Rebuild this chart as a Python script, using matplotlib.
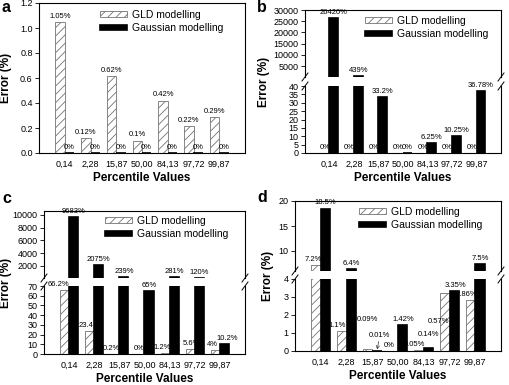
import matplotlib
matplotlib.use("Agg")
import matplotlib.pyplot as plt
from matplotlib.lines import Line2D

plt.rcParams['font.family'] = ['Liberation Sans', 'DejaVu Sans']
plt.rcParams['hatch.linewidth'] = 0.6

W, H = 510, 385

percentiles = ['0,14', '2,28', '15,87', '50,00', '84,13', '97,72', '99,87']
series_names = ['GLD modelling', 'Gaussian modelling']

# panel a
a_gld = [1.05, 0.12, 0.62, 0.1, 0.42, 0.22, 0.29]
a_gau = [0, 0, 0, 0, 0, 0, 0]
a_gld_lab = ['1.05%', '0.12%', '0.62%', '0.1%', '0.42%', '0.22%', '0.29%']
a_gau_lab = ['0%'] * 7

# panel b
b_gld = [0, 0, 0, 0, 0, 0, 0]
b_gau = [26420, 439, 33.2, 0, 6.25, 10.25, 36.78]
b_gld_lab = ['0%'] * 7
b_gau_lab = ['26420%', '439%', '33.2%', '0%', '6.25%', '10.25%', '36.78%']

# panel c
c_gld = [66.2, 23.4, 0.2, 0, 1.2, 5.6, 4]
c_gau = [9683, 2075, 239, 65, 281, 120, 10.2]
c_gld_lab = ['66.2%', '23.4', '0.2%', '0%', '1.2%', '5.6%', '4%']
c_gau_lab = ['9683%', '2075%', '239%', '65%', '281%', '120%', '10.2%']

# panel d
d_gld = [7.2, 1.1, 0.09, 0, 0.05, 3.2, 2.86]
d_gau = [18.5, 6.4, 0.01, 1.42, 0.14, 3.35, 7.5]
d_gld_lab = ['7.2%', '1.1%', '0.09%', '0%', '0.05%', '0.57%', '2.86%']
d_gau_lab = ['18.5%', '6.4%', '0.01%', '1.42%', '0.14%', '3.35%', '7.5%']

BW = 0.36


def rect(l, t, r, b):
    return [l / W, 1 - b / H, (r - l) / W, (b - t) / H]


def style_ax(ax, top=True, bottom=True):
    ax.set_xlim(-1, 7)
    for s in ax.spines.values():
        s.set_linewidth(0.8)
    ax.spines['top'].set_visible(top)
    ax.spines['bottom'].set_visible(bottom)
    ax.tick_params(axis='y', direction='out', length=3, width=0.6, labelsize=6.5, pad=1.5)
    ax.tick_params(axis='x', length=0, labelsize=6.5, pad=5)
    ax.set_xticks(range(7))
    if bottom:
        ax.set_xticklabels(percentiles)
    else:
        ax.set_xticklabels([])


def draw_bars(ax, gld, gau, floor=None):
    # floor: only bars taller than this are drawn (upper part of a broken axis)
    x = list(range(7))
    keep = lambda v: floor is None or v > floor
    g1 = [(i - BW / 2, v) for i, v in zip(x, gld) if keep(v)]
    g2 = [(i + BW / 2, v) for i, v in zip(x, gau) if keep(v)]
    b1 = ax.bar([p for p, _ in g1], [v for _, v in g1], BW, color='white', edgecolor='0.45',
                hatch='////', linewidth=0.6, label=series_names[0])
    b2 = ax.bar([p for p, _ in g2], [v for _, v in g2], BW, color='black', edgecolor='black',
                linewidth=1.2, label=series_names[1])
    return b1, b2


def put_labels(lower, upper, upper_lo, lower_hi, vals, labs, side, offs=None, arrows=()):
    for i, (v, lab) in enumerate(zip(vals, labs)):
        xpos = i + side * BW / 2
        dx, dy = offs[i] if offs else (0, 0)
        if upper is not None and v > lower_hi:
            ax, y = upper, max(v, upper_lo)
        else:
            ax, y = lower, v
        kw = {}
        if i in arrows:
            kw['arrowprops'] = dict(arrowstyle='->', lw=0.5, color='0.2', shrinkA=0, shrinkB=1)
        ax.annotate(lab, (xpos, y), xytext=(dx * 0.72, (dy + 2) * 0.72),
                    textcoords='offset points', ha='center', va='bottom',
                    fontsize=5.5, annotation_clip=False, **kw)


def break_marks(fig, l, r, ub, lt):
    for xs in (l, r):
        for yy in (ub, lt):
            fig.add_artist(Line2D([(xs - 3) / W, (xs + 3) / W],
                                  [1 - (yy + 4) / H, 1 - (yy - 4) / H],
                                  color='black', lw=0.7))


def panel(fig, letter, letter_at, ylab_x, gld, gau, gld_lab, gau_lab, box, lo_lim, lo_ticks,
          up_lim=None, up_ticks=None, split=None, legend_at=None,
          gld_offs=None, gau_offs=None, arrows=()):
    l, t, r, b = box
    if split is None:
        lower = fig.add_axes(rect(l, t, r, b))
        upper = None
        style_ax(lower)
    else:
        ub, lt = split
        upper = fig.add_axes(rect(l, t, r, ub))
        lower = fig.add_axes(rect(l, lt, r, b))
        style_ax(upper, top=True, bottom=False)
        style_ax(lower, top=False, bottom=True)
        draw_bars(upper, gld, gau, floor=lo_lim[1])
        upper.set_ylim(*up_lim)
        upper.set_yticks(up_ticks)
        break_marks(fig, l, r, ub, lt)
    h1, h2 = draw_bars(lower, gld, gau)
    lower.set_ylim(*lo_lim)
    lower.set_yticks(lo_ticks)
    if lo_lim[1] < 2:
        lower.set_yticklabels(['%.1f' % v for v in lo_ticks])

    up_lo = up_lim[0] if up_lim else None
    put_labels(lower, upper, up_lo, lo_lim[1], gld, gld_lab, -1, gld_offs)
    put_labels(lower, upper, up_lo, lo_lim[1], gau, gau_lab, 1, gau_offs, arrows)

    fig.legend([h1, h2], series_names, loc='upper left',
               bbox_to_anchor=(legend_at[0] / W, 1 - legend_at[1] / H),
               bbox_transform=fig.transFigure, frameon=False, fontsize=7.5,
               handlelength=2.6, handleheight=0.45, handletextpad=0.5,
               labelspacing=0.3, borderpad=0, borderaxespad=0)

    fig.text(ylab_x / W, 1 - (t + b) / 2 / H, 'Error (%)', rotation=90,
             ha='center', va='center', fontsize=8.5, fontweight='bold')
    fig.text((l + r) / 2 / W, 1 - (b + 25) / H, 'Percentile Values',
             ha='center', va='center', fontsize=8.5, fontweight='bold')
    fig.text(letter_at[0] / W, 1 - letter_at[1] / H, letter, ha='left', va='top',
             fontsize=11.5, fontweight='bold')


fig = plt.figure(figsize=(W / 100, H / 100), dpi=100)

panel(fig, 'a', (2, 0), 6, a_gld, a_gau, a_gld_lab, a_gau_lab, (39, 3, 245, 153),
      (0, 1.2), [0, 0.2, 0.4, 0.6, 0.8, 1.0, 1.2], legend_at=(100, 10))

panel(fig, 'b', (257, 0), 264, b_gld, b_gau, b_gld_lab, b_gau_lab, (305, 10, 501, 153),
      (0, 40), list(range(0, 41, 5)), up_lim=(100, 30000),
      up_ticks=[5000, 10000, 15000, 20000, 25000, 30000], split=(77, 86),
      legend_at=(365, 16))

panel(fig, 'c', (2, 191), 6, c_gld, c_gau, c_gld_lab, c_gau_lab, (44, 211, 245, 354),
      (0, 70), list(range(0, 71, 10)), up_lim=(100, 10600),
      up_ticks=[2000, 4000, 6000, 8000, 10000], split=(278, 286),
      legend_at=(105, 216),
      gld_offs=[(-6, 0), (-4, 0), (-3, 0), (-1, 0), (-3, 0), (1, 0), (-3, 0)],
      gau_offs=[(0, 0), (0, 0), (0, 0), (0, 0), (0, 0), (0, 0), (3, 0)])

panel(fig, 'd', (257, 190), 268, d_gld, d_gau, d_gld_lab, d_gau_lab, (295, 201, 501, 351),
      (0, 4), [0, 1, 2, 3, 4], up_lim=(6, 20), up_ticks=[10, 15, 20],
      split=(271, 279), legend_at=(359, 207),
      gld_offs=[(-3, 0), (-5, 0), (0, 24), (-4, 0), (-5, 0), (-6, -34), (-4, 0)],
      gau_offs=[(0, 0), (0, 0), (3, 10), (1, 0), (0, 8), (1, 0), (0, 0)],
      arrows=(2,))

fig.savefig('out.png', dpi=100)
